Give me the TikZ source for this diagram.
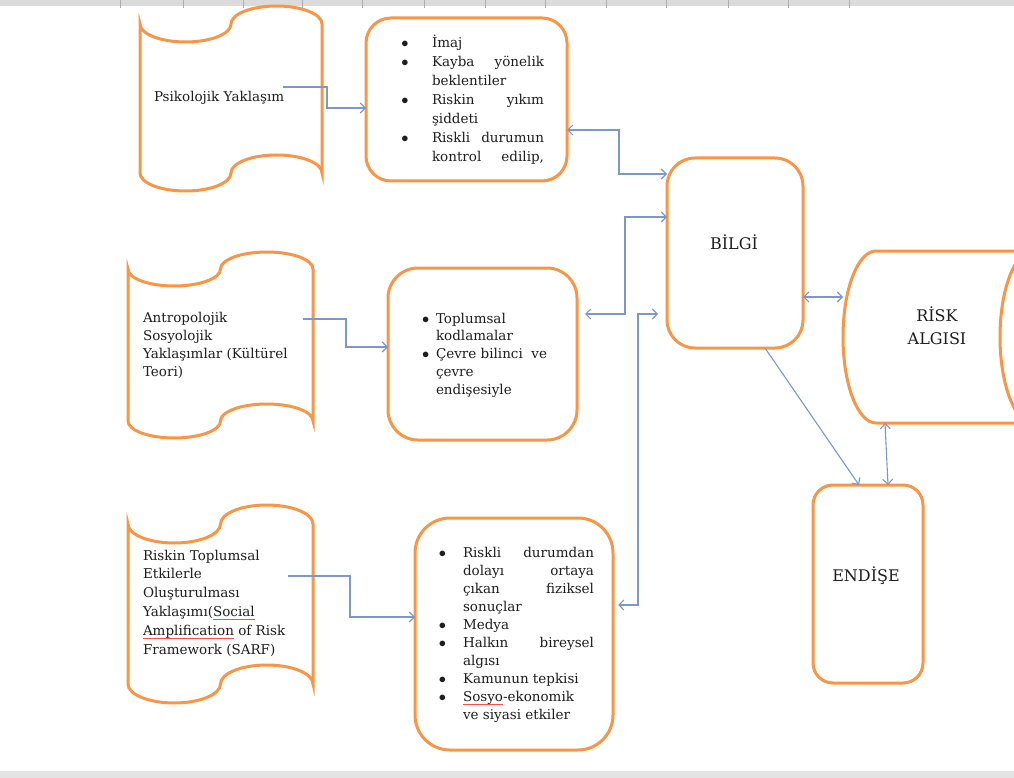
\documentclass[tikz,border=0pt]{standalone}
\usepackage{fontspec}
\setmainfont{DejaVu Serif}
\usetikzlibrary{arrows.meta}
\definecolor{orng}{HTML}{F79646}
\definecolor{conncol}{RGB}{125,152,200}
\definecolor{txt}{HTML}{1E1E1E}
\newcommand\jl[1]{\makebox[\linewidth][s]{#1}}
\newcommand\bul[1]{\leavevmode\llap{$\bullet$\hspace{#1}}}
\newsavebox\myulbox
\newcommand\redul[1]{\sbox\myulbox{#1}\rlap{\textcolor{red!70}{\rule[-3pt]{\wd\myulbox}{0.5pt}}}\usebox\myulbox}
\newcommand\tapepath[5]{(#1,#3) arc[start angle=180,end angle=0,x radius={(#2-#1)/4},y radius=#5]
  arc[start angle=180,end angle=360,x radius={(#2-#1)/4},y radius=#5] -- (#2,#4)
  arc[start angle=0,end angle=-180,x radius={(#2-#1)/4},y radius=#5]
  arc[start angle=0,end angle=180,x radius={(#2-#1)/4},y radius=#5] -- cycle}
\tikzset{
  shp/.style={draw=orng, line width=3pt, fill=white},
  rbox/.style={shp, rectangle, inner sep=0, outer sep=0},
  conn/.style={draw=conncol, line width=1.1pt},
  txtblk/.style={anchor=base west, inner sep=0, outer sep=0, text=txt, font=\fontsize{13.5}{18}\selectfont},
  biglbl/.style={anchor=base, inner sep=0, text=txt, font=\fontsize{16}{23}\selectfont},
  >={Straight Barb[length=5pt,width=10pt]}
}
\begin{document}
\begin{tikzpicture}[x=1pt,y=-1pt]
\useasboundingbox (0,0) rectangle (1014,778);
\clip (0,0) rectangle (1014,778);
% ruler and page bands
\fill[gray!28] (0,0) rectangle (1014,6);
\foreach \x in {120,183,243,302,362,424,485,545,606,666,728,788,849}
  \draw[gray!65, line width=0.6pt] (\x,0) -- (\x,8);
\fill[gray!22] (0,771) rectangle (1014,778);

% tapes
\draw[shp] \tapepath{140}{322}{24}{173}{18};
\draw[shp] \tapepath{128}{313}{269}{421}{17};
\draw[shp] \tapepath{128}{313}{524}{684}{19};

% rounded boxes
\node[rbox, rounded corners=25pt, minimum width=201pt, minimum height=163pt] (box1) at (466.5,99.5) {};
\node[rbox, rounded corners=30pt, minimum width=189pt, minimum height=172pt] (box2) at (482.5,354) {};
\node[rbox, rounded corners=35pt, minimum width=198pt, minimum height=232pt] (box3) at (514,634) {};
\node[rbox, rounded corners=28pt, minimum width=136pt, minimum height=190pt] (bilgi) at (735,253) {};
\node[rbox, rounded corners=20pt, minimum width=110pt, minimum height=198pt] (endise) at (868,584) {};

% stored data shape
\draw[shp] (876,251) -- (1033,251) arc[start angle=270,end angle=90,x radius=33,y radius=86]
  -- (876,423) arc[start angle=90,end angle=270,x radius=33,y radius=86] -- cycle;
\node[inner sep=0, outer sep=0, minimum width=190pt, minimum height=172pt] (risk) at (938,337) {};

% texts
\node[txtblk] (t1text) at (154,102) {Psikolojik Yaklaşım};
\node[txtblk] (t2text) at (143,322) {\parbox[t]{170pt}{\baselineskip=18.3pt
Antropolojik\\Sosyolojik\\Yaklaşımlar (Kültürel\\Teori)}};
\node[txtblk] (t3text) at (143,560) {\parbox[t]{170pt}{\baselineskip=18.8pt
Riskin Toplumsal\\Etkilerle\\Oluşturulması\\Yaklaşımı(\redul{Social}\\\redul{Amplification} of Risk\\Framework (SARF)}};

\node[txtblk] (b1text) at (432,48) {\parbox[t]{112pt}{\baselineskip=18.9pt
\bul{23.5pt}İmaj\\
\bul{23.5pt}\jl{Kayba yönelik}\\
beklentiler\\
\bul{23.5pt}\jl{Riskin yıkım}\\
şiddeti\\
\bul{23.5pt}\jl{Riskli durumun}\\
\jl{kontrol edilip,}}};

\node[txtblk] (b2text) at (436,323) {\parbox[t]{125pt}{\baselineskip=17.8pt
\bul{6.75pt}Toplumsal\\
kodlamalar\\
\bul{6.75pt}Çevre bilinci\ \ ve\\
çevre\\
endişesiyle}};

\node[txtblk] (b3text) at (463,557) {\parbox[t]{131pt}{\baselineskip=18.1pt
\bul{17pt}\jl{Riskli durumdan}\\
\jl{dolayı ortaya}\\
\jl{çıkan fiziksel}\\
sonuçlar\\
\bul{17pt}Medya\\
\bul{17pt}\jl{Halkın bireysel}\\
algısı\\
\bul{17pt}Kamunun tepkisi\\
\bul{17pt}\redul{Sosyo}-ekonomik\\
ve siyasi etkiler}};

\node[biglbl] (bilgitext) at (734,249) {BİLGİ};
\node[biglbl] (risktext) at (937,321) {\parbox[t]{90pt}{\centering\baselineskip=23pt RİSK\\ALGISI}};
\node[biglbl] (endisetext) at (866,581) {ENDİŞE};

% connectors
\coordinate (t1out) at (283,87);
\coordinate (t2out) at (303,319);
\coordinate (t3out) at (288,576);
\draw[conn,->] (t1out) -- (327,87) -- (327,108) -- (box1.west |- 0,108);
\draw[conn,->] (t2out) -- (346,319) -- (346,347) -- (box2.west |- 0,347);
\draw[conn,->] (t3out) -- (350,576) -- (350,617) -- (box3.west |- 0,617);
\draw[conn,<->] (box1.east |- 0,130) -- (619,130) -- (619,174) -- (bilgi.west |- 0,174);
\draw[conn,<->, shorten <=8pt] (box2.east |- 0,314) -- (625,314) -- (625,217) -- (bilgi.west |- 0,217);
\draw[conn,<->, shorten <=5pt, shorten >=9pt] (box3.east |- 0,605) -- (638,605) -- (638,314) -- (bilgi.west |- 0,314);
\draw[conn,<->] (bilgi.east |- 0,297) -- (risk.west |- 0,297);
\draw[conn,->] (bilgi.south -| 765,0) -- (endise.north -| 859,0);
\draw[conn,<->] (risk.south -| 885,0) -- (endise.north -| 888,0);
\end{tikzpicture}
\end{document}
